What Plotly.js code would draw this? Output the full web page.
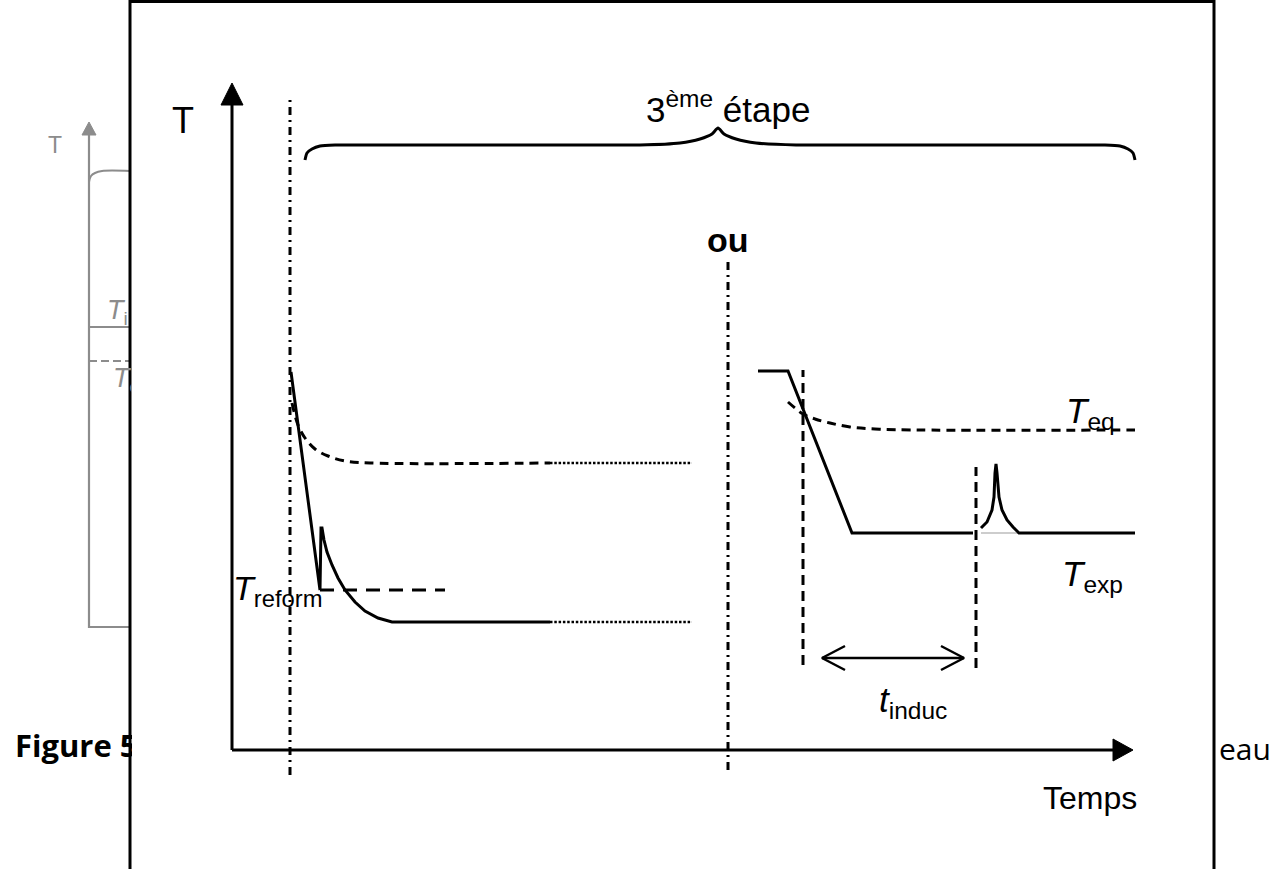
<!DOCTYPE html>
<html>
<head>
<meta charset="utf-8">
<script src="https://cdn.plot.ly/plotly-3.0.1.min.js"></script>
<style>html,body{margin:0;padding:0;background:#fff;}#chart{width:1274px;height:869px;}</style>
</head>
<body>
<div id="chart"></div>
<script>
// Schematic units: t = time (origin at the axes corner), T = temperature.

// ---- main axes ----
const axisT_t = [0, 0];            const axisT_T = [0, 645];
const arrowT_t = [-11, 11, 0, -11]; const arrowT_T = [645, 645, 667, 645];
const axisX_t = [0, 881];          const axisX_T = [0, 0];
const arrowX_t = [881, 881, 901, 881]; const arrowX_T = [11, -11, 0, 11];

// ---- dash-dot separators ----
const sep1_t = [58, 58];   const sep1_T = [-25, 653];
const sep2_t = [496, 496]; const sep2_T = [-20, 488];

// ---- brace over the 3rd stage ----
const brace_t = [73, 75, 80, 88, 103, 408, 448, 468, 480, 486, 492, 504, 524, 564, 873, 888, 896, 901, 903];
const brace_T = [590, 597, 601, 604, 605, 605, 607, 611, 616, 622, 616, 611, 607, 605, 605, 604, 601, 597, 590];

// ---- left scenario: sample temperature ----
const coolA_t = [59, 88, 89, 90, 92, 95, 100, 106, 113, 123, 133, 146, 160, 318];
const coolA_T = [378, 160, 222, 222, 210, 198, 185, 172, 160, 148, 139, 132, 128, 128];
const coolA_dot_t = [318, 460]; const coolA_dot_T = [128, 128];
// reform temperature level
const reform_t = [88, 213]; const reform_T = [160, 160];
// equilibrium temperature (left)
const eqA_t = [60, 66, 73, 83, 96, 113, 138, 318];
const eqA_T = [347, 325, 312, 301, 294, 289, 287, 287];
const eqA_dot_t = [318, 460]; const eqA_dot_T = [287, 287];

// ---- right scenario: sample temperature with crystallisation peak ----
const coolB_t = [526, 556, 620, 741];
const coolB_T = [379, 379, 217, 217];
const peak_t = [749, 755, 760, 762, 763, 764, 765, 767, 770, 775, 781, 787, 903];
const peak_T = [222, 228, 240, 253, 277, 286, 277, 253, 240, 230, 223, 217, 217];
const peakBase_t = [749, 787]; const peakBase_T = [217, 217];
// equilibrium temperature (right)
const eqB_t = [556, 563, 571, 583, 598, 618, 643, 688, 903];
const eqB_T = [348, 342, 336, 331, 327, 323, 321, 320, 320];
// induction time markers
const mark1_t = [571, 571]; const mark1_T = [85, 380];
const mark2_t = [744, 744]; const mark2_T = [82, 283];
const induc_t = [590, 732]; const induc_T = [92, 92];
const headL_t = [613, 590, 613]; const headL_T = [104, 92, 80];
const headR_t = [709, 732, 709]; const headR_T = [104, 92, 80];

// ---- frame of the inset ----
const frame_t = [-102, -102, 982, 982];
const frame_T = [-130, 748.5, 748.5, -130];

// ---- background figure (grey) ----
const gAxis_t = [-102, -143, -143]; const gAxis_T = [123, 123, 615];
const gArrow_t = [-150, -136, -143, -150]; const gArrow_T = [615, 615, 628, 615];
const gTop_t = [-143, -141, -137, -130, -102]; const gTop_T = [568, 574, 577, 579, 579];
const gTi_t = [-143, -102]; const gTi_T = [423, 423];
const gTe_t = [-143, -102]; const gTe_T = [389, 389];

const K = '#000';
const G = '#8c8c8c';
function line(x, y, color, width, dash, extra) {
  return Object.assign({x: x, y: y, type: 'scatter', mode: 'lines', hoverinfo: 'skip',
    line: {color: color, width: width, dash: dash || 'solid', simplify: false}}, extra || {});
}
function tri(x, y, color) {
  return {x: x, y: y, type: 'scatter', mode: 'lines', fill: 'toself', fillcolor: color,
    hoverinfo: 'skip', line: {color: color, width: 1}};
}

const traces = [
  // grey background figure
  line(gAxis_t, gAxis_T, G, 2.2),
  tri(gArrow_t, gArrow_T, G),
  line(gTop_t, gTop_T, G, 2, 'solid', {line: {color: G, width: 2, shape: 'spline'}}),
  line(gTi_t, gTi_T, G, 1.8),
  line(gTe_t, gTe_T, G, 1.8, '8px,4px'),
  // frame
  line(frame_t, frame_T, K, 3),
  // axes
  line(axisT_t, axisT_T, K, 3),
  tri(arrowT_t, arrowT_T, K),
  line(axisX_t, axisX_T, K, 3),
  tri(arrowX_t, arrowX_T, K),
  // separators
  line(sep1_t, sep1_T, K, 3, '8px,5px,2px,5px'),
  line(sep2_t, sep2_T, K, 3, '8px,5px,2px,5px'),
  // brace
  {x: brace_t, y: brace_T, type: 'scatter', mode: 'lines', hoverinfo: 'skip',
   line: {color: K, width: 3, shape: 'spline', smoothing: 0.6}},
  // left scenario
  line(eqA_t, eqA_T, K, 3, '9px,6px', {line: {color: K, width: 3, dash: '9px,6px', shape: 'spline'}}),
  line(eqA_dot_t, eqA_dot_T, K, 2.5, '2.5px,1.8px'),
  line(reform_t, reform_T, K, 3, '14px,9px'),
  line(coolA_t, coolA_T, K, 3),
  line(coolA_dot_t, coolA_dot_T, K, 2.5, '2.5px,1.8px'),
  // right scenario
  line(eqB_t, eqB_T, K, 3, '9px,6px', {line: {color: K, width: 3, dash: '9px,6px', shape: 'spline'}}),
  line(coolB_t, coolB_T, K, 3),
  line(peakBase_t, peakBase_T, '#bdbdbd', 1.5),
  line(peak_t, peak_T, K, 3),
  line(mark1_t, mark1_T, K, 3, '10px,6px'),
  line(mark2_t, mark2_T, K, 3, '10px,6px'),
  line(induc_t, induc_T, K, 2.5),
  line(headL_t, headL_T, K, 2.5),
  line(headR_t, headR_T, K, 2.5)
];

const AR = 'Liberation Sans, Arial, sans-serif';
function ann(x, y, text, size, extra) {
  return Object.assign({x: x, y: y, xref: 'x', yref: 'y', text: text, showarrow: false,
    font: {family: AR, size: size, color: K}, xanchor: 'center', yanchor: 'middle'}, extra || {});
}

const annotations = [
  // background caption, partly hidden by the inset
  ann(-219, 5, '<b>Figure 5</b>', 31, {font: {family: 'Open Sans, sans-serif', size: 31, color: K},
    xanchor: 'left', width: 117, align: 'left'}),
  ann(985, 2, 'eau', 30, {font: {family: 'Open Sans, sans-serif', size: 30, color: K}, xanchor: 'left'}),
  // grey background labels
  ann(-177, 605, 'T', 23, {font: {family: AR, size: 23, color: G}}),
  ann(-127, 438, '<i>T</i><sub>i</sub>', 27, {font: {family: AR, size: 27, color: G},
    xanchor: 'left', width: 25, align: 'left'}),
  ann(-121, 370, '<i>T</i><sub>e</sub>', 27, {font: {family: AR, size: 27, color: G},
    xanchor: 'left', width: 19, align: 'left'}),
  // main labels
  ann(-49, 630, 'T', 36),
  ann(496, 643, '3<sup>ème</sup> étape', 35),
  ann(496, 510, '<b>ou</b>', 34),
  ann(858, -48, 'Temps', 32),
  ann(46, 160, '<i>T</i><sub>reform</sub>', 34),
  ann(858, 337, '<i>T</i><sub>eq</sub>', 35),
  ann(860, 174, '<i>T</i><sub>exp</sub>', 35),
  ann(681, 48, '<i>t</i><sub>induc</sub>', 35)
];

const layout = {
  width: 1274, height: 869,
  margin: {l: 0, r: 0, t: 0, b: 0, pad: 0},
  paper_bgcolor: '#fff', plot_bgcolor: '#fff',
  showlegend: false,
  xaxis: {range: [-232, 1042], visible: false, fixedrange: true},
  yaxis: {range: [-119, 750], visible: false, fixedrange: true},
  annotations: annotations
};

Plotly.newPlot('chart', traces, layout, {staticPlot: true, displayModeBar: false});
</script>
</body>
</html>
